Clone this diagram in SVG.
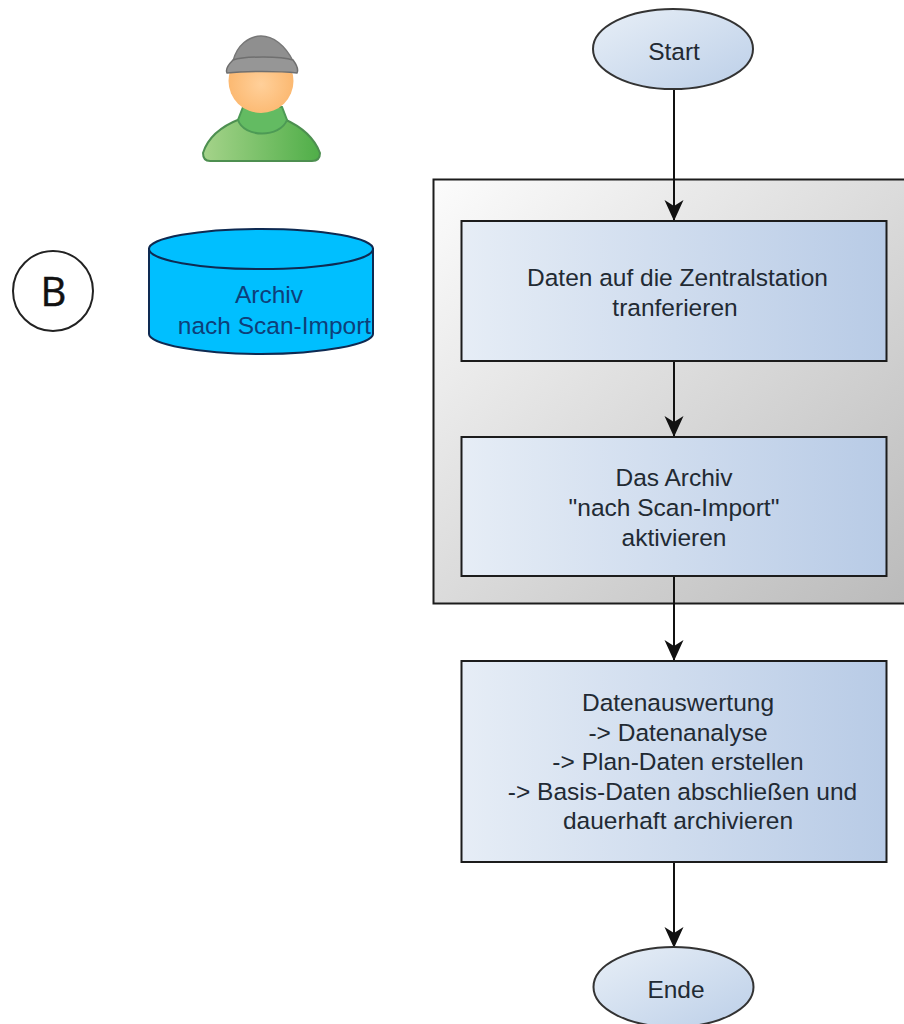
<svg xmlns="http://www.w3.org/2000/svg" width="904" height="1024" viewBox="0 0 904 1024">
<style>
text{font-family:"Liberation Sans",Arial,sans-serif;font-size:24.500px;fill:#222a33;text-anchor:middle}
.b{fill:url(#blue);stroke:#1c1c1c;stroke-width:2}
.e{fill:url(#blued);stroke:#333;stroke-width:2}
.c{fill:none;stroke:#111;stroke-width:2;marker-end:url(#arr)}
</style>
<defs>
<linearGradient id="blue" x1="0" y1="0" x2="1" y2="0"><stop offset="0" stop-color="#e6edf6"/><stop offset="1" stop-color="#b8cbe6"/></linearGradient>
<linearGradient id="blued" x1="0" y1="0" x2="1" y2="1"><stop offset="0" stop-color="#e8eff7"/><stop offset="1" stop-color="#bccfe8"/></linearGradient>
<linearGradient id="grey" x1="0" y1="0" x2="1" y2="1"><stop offset="0" stop-color="#fcfcfc"/><stop offset="1" stop-color="#bababa"/></linearGradient>
<linearGradient id="shirt" x1="0" y1="0" x2="1" y2="0"><stop offset="0" stop-color="#a5d38a"/><stop offset="1" stop-color="#4fae48"/></linearGradient>
<radialGradient id="face" cx=".5" cy=".55" r=".6"><stop offset="0" stop-color="#ffd09a"/><stop offset="1" stop-color="#fbb469"/></radialGradient>
<marker id="arr" markerUnits="userSpaceOnUse" markerWidth="22" markerHeight="20" refX="20" refY="10" orient="auto" viewBox="0 0 22 20"><path d="M0 .5 L6 10 L0 19.500 L21 10 Z" fill="#111"/></marker>
</defs>
<g id="container"><rect x="433.500" y="179.500" width="480" height="424" fill="url(#grey)" stroke="#1c1c1c" stroke-width="2"/></g>
<g id="connectors">
<path class="c" d="M674 90 L674 220"/>
<path class="c" d="M674 361 L674 436"/>
<path class="c" d="M674 576 L674 660"/>
<path class="c" d="M674 862 L674 947"/>
</g>
<g id="start"><ellipse cx="673" cy="49" rx="80" ry="40" class="e"/><text x="674" y="60">Start</text></g>
<g id="step1"><rect x="461.500" y="221" width="425" height="140" class="b"/><text x="677.500" y="286">Daten auf die Zentralstation</text><text x="675" y="316">tranferieren</text></g>
<g id="step2"><rect x="461.500" y="437" width="425" height="139" class="b"/><text x="674" y="486">Das Archiv</text><text x="674" y="516">"nach Scan-Import"</text><text x="674" y="546">aktivieren</text></g>
<g id="step3"><rect x="461.500" y="661" width="425" height="201" class="b"/><text x="678" y="711">Datenauswertung</text><text x="678" y="741">-&gt; Datenanalyse</text><text x="678" y="770">-&gt; Plan-Daten erstellen</text><text x="682.500" y="800">-&gt; Basis-Daten abschließen und</text><text x="678" y="829">dauerhaft archivieren</text></g>
<g id="end"><ellipse cx="673.500" cy="987" rx="80" ry="40" class="e"/><text x="676" y="998">Ende</text></g>
<g id="b-marker"><circle cx="53" cy="291" r="40" fill="#fff" stroke="#222" stroke-width="2"/><text x="53.500" y="306" style="font-size:40px;fill:#111;stroke:#111;stroke-width:.5;font-family:'Open Sans','Liberation Sans',sans-serif">B</text></g>
<g id="archive"><path d="M149 249 V334 C149 344 200 354 261 354 C322 354 373 344 373 334 V249 Z" fill="#00bfff" stroke="#0e2a52" stroke-width="2"/><ellipse cx="261" cy="249" rx="112" ry="20" fill="#00bfff" stroke="#0e2a52" stroke-width="2"/><text x="269" y="303" style="fill:#0e3f7a">Archiv</text><text x="274.500" y="334" style="fill:#0e3f7a">nach Scan-Import</text></g>
<g id="person">
<path d="M203 153 C208 137 222 126 240 119 L284 119 C300 126 314 137 320 153 C320 159 316 161 312 161 H210 C206 161 203 159 203 153 Z" fill="url(#shirt)" stroke="#4d8f50" stroke-width="2"/>
<path d="M243 107 L238 120 C244 138 280 138 287 120 L282 107 Z" fill="#63bb62" stroke="#4d9a55" stroke-width="2"/>
<ellipse cx="261" cy="81" rx="32.500" ry="32" fill="url(#face)"/>
<path d="M233 61 C237 45 249 36 261 36 C273 36 285 45 293 61 Z" fill="#8f8f8f" stroke="#777" stroke-width="1.500"/>
<path d="M233 60 C245 56 281 56 293 60 C296 64 299 69 297 73 C280 71 245 71 227 73 C225 69 229 64 233 60 Z" fill="#969696" stroke="#6f6f6f" stroke-width="1.500"/>
</g>
</svg>
